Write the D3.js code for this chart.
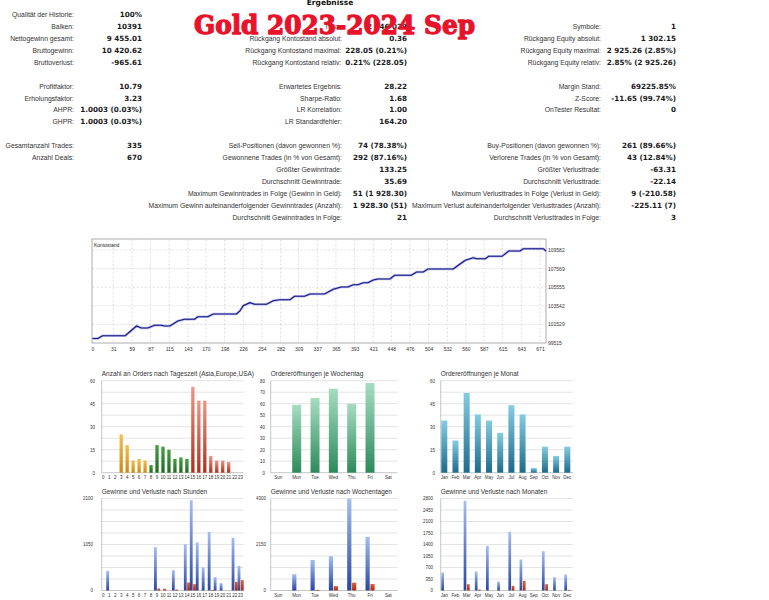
<!DOCTYPE html>
<html><head><meta charset="utf-8">
<script src="https://cdn.jsdelivr.net/npm/d3@7"></script>
<style>body{margin:0;background:#fff}svg{display:block}</style>
</head><body>
<svg id="c" width="769" height="600"></svg>
<script>
// ---------- DATA ----------
const reportTitle = "Ergebnisse";
const overlayTitle = "Gold 2023-2024 Sep";

const col1Labels = ["Qualität der Historie:","Balken:","Nettogewinn gesamt:","Bruttogewinn:","Bruttoverlust:","","Profitfaktor:","Erholungsfaktor:","AHPR:","GHPR:","","Gesamtanzahl Trades:","Anzahl Deals:"];
const col1Values = ["100%","10391","9 455.01","10 420.62","-965.61","","10.79","3.23","1.0003 (0.03%)","1.0003 (0.03%)","","335","670"];
const col2Labels = ["","Ticks:","Rückgang Kontostand absolut:","Rückgang Kontostand maximal:","Rückgang Kontostand relativ:","","Erwartetes Ergebnis:","Sharpe-Ratio:","LR Korrelation:","LR Standardfehler:","","Sell-Positionen (davon gewonnen %):","Gewonnene Trades (in % von Gesamt):","Größter Gewinntrade:","Durchschnitt Gewinntrade:","Maximum Gewinntrades in Folge (Gewinn in Geld):","Maximum Gewinn aufeinanderfolgender Gewinntrades (Anzahl):","Durchschnitt Gewinntrades in Folge:"];
const col2Values = ["","2 046 029","0.36","228.05 (0.21%)","0.21% (228.05)","","28.22","1.68","1.00","164.20","","74 (78.38%)","292 (87.16%)","133.25","35.69","51 (1 928.30)","1 928.30 (51)","21"];
const col3Labels = ["","Symbole:","Rückgang Equity absolut:","Rückgang Equity maximal:","Rückgang Equity relativ:","","Margin Stand:","Z-Score:","OnTester Resultat:","","","Buy-Positionen (davon gewonnen %):","Verlorene Trades (in % von Gesamt):","Größter Verlusttrade:","Durchschnitt Verlusttrade:","Maximum Verlusttrades in Folge (Verlust in Geld):","Maximum Verlust aufeinanderfolgender Verlusttrades (Anzahl):","Durchschnitt Verlusttrades in Folge:"];
const col3Values = ["","1","1 302.15","2 925.26 (2.85%)","2.85% (2 925.26)","","69225.85%","-11.65 (99.74%)","0","","","261 (89.66%)","43 (12.84%)","-63.31","-22.14","9 (-210.58)","-225.11 (7)","3"];

const balanceLabel = "Kontostand";
const balanceIndex = [0,8,15,49,66,73,83,93,103,108,116,128,138,153,158,173,181,216,221,226,236,243,261,271,281,296,303,318,326,348,361,373,383,391,398,406,413,421,428,446,453,478,486,496,503,541,549,559,571,576,589,594,614,624,641,646,676,680];
const balanceValue = [100000,100000,100305,100305,101354,101138,101138,101430,101430,101354,101354,101896,102080,102080,102360,102360,102653,102653,102977,103551,103876,103703,103703,104092,104200,104200,104568,104568,104817,104817,105325,105574,105574,105822,105822,106040,106040,106331,106440,106440,106840,106840,107197,107197,107520,107520,107955,108460,108745,108636,108636,108896,108896,109469,109469,109720,109720,109455];
const balanceXTicks = [0,31,59,87,115,143,170,198,226,254,282,309,337,365,393,421,448,476,504,532,560,587,615,643,671];
const balanceYTicks = [99515,101529,103542,105555,107569,109582];

const hourLabels = ["0","1","2","3","4","5","6","7","8","9","10","11","12","13","14","15","16","17","18","19","20","21","22","23"];
const dayLabels = ["Sun","Mon","Tue","Wed","Thu","Fri","Sat"];
const monthLabels = ["Jan","Feb","Mar","Apr","May","Jun","Jul","Aug","Sep","Oct","Nov","Dec"];
const hourSession = ["asia","asia","asia","asia","asia","asia","asia","asia","europe","europe","europe","europe","europe","europe","europe","usa","usa","usa","usa","usa","usa","usa","usa","usa"];

const ordersByHour = [0,0,0,25,18,8,9,8,5,18,17,15,9,10,9,56,47,47,11,8,8,7,0,0];
const ordersByDay = [0,59,65,73,60,78,0];
const ordersByMonth = [34,21,52,38,34,26,44,38,3,17,11,17];
const profitByHour = [0,449,0,0,0,0,0,0,0,989,0,0,464,0,1058,2062,1096,525,1339,304,167,0,1202,563];
const lossByHour = [0,0,0,0,0,0,0,0,0,45,40,0,23,0,183,145,0,0,15,0,0,0,198,236];
const profitByDay = [0,762,1428,1603,4290,2507,0];
const lossByDay = [0,0,32,206,365,302,0];
const profitByMonth = [548,0,2728,578,1359,274,1785,943,0,1197,406,487];
const lossByMonth = [0,0,193,30,0,0,142,294,0,193,0,20];

const yTicksOrdersHour = [0,15,30,45,60];
const yTicksOrdersDay = [0,10,20,30,40,50,60,70,80];
const yTicksOrdersMonth = [0,15,30,45,60];
const yTicksPLHour = [0,1050,2100];
const yTicksPLDay = [0,2150,4300];
const yTicksPLMonth = [0,350,700,1050,1400,1750,2100,2450,2800];

const chartTitles = ["Anzahl an Orders nach Tageszeit (Asia,Europe,USA)","Ordereröffnungen je Wochentag","Ordereröffnungen je Monat","Gewinne und Verluste nach Stunden","Gewinne und Verluste nach Wochentagen","Gewinne und Verluste nach Monaten"];

// ---------- DRAW ----------
const svg = d3.select("#c");
const defs = svg.append("defs");
function grad(id, top, bottom){
  const g = defs.append("linearGradient").attr("id",id).attr("x1",0).attr("y1",0).attr("x2",0).attr("y2",1);
  g.append("stop").attr("offset","0%").attr("stop-color",top);
  g.append("stop").attr("offset","100%").attr("stop-color",bottom);
}
grad("gAsia","#f2c050","#cf8a12");
grad("gEurope","#45a045","#1d6b1d");
grad("gUsa","#ec9888","#ad2e1c");
grad("gDay","#a6ddc2","#2c8a5a");
grad("gMonth","#84cde2","#1c6b8a");
grad("gBlue","#a4bff0","#2846a0");
grad("gRed","#e0603c","#b0280e");

const LBL_FONT = "'Liberation Sans', Arial, sans-serif";
const VAL_FONT = "'DejaVu Sans', Verdana, sans-serif";
const rowY = i => 14.7 + 11.9*i + 2.5;

// stats
const statCols = [
  {labels: col1Labels, values: col1Values, lx: 74, vx: 142},
  {labels: col2Labels, values: col2Values, lx: 342, vx: 407},
  {labels: col3Labels, values: col3Values, lx: 601, vx: 676}
];
const stats = svg.append("g");
statCols.forEach(col => {
  col.labels.forEach((lab, i) => {
    if (!lab && !col.values[i]) return;
    const v = stats.append("text").attr("x", col.vx).attr("y", rowY(i))
      .attr("text-anchor","end").attr("font-family",VAL_FONT).attr("font-weight","bold")
      .attr("font-size",7.2).attr("fill","#1a1a1a").text(col.values[i]);
    const vLeft = col.vx - v.node().getComputedTextLength();
    const lx = Math.min(col.lx, vLeft - 4);
    stats.append("text").attr("x", lx).attr("y", rowY(i))
      .attr("text-anchor","end").attr("font-family",LBL_FONT)
      .attr("font-size",6.8).attr("fill","#333").text(lab);
  });
});
svg.append("text").attr("x",330).attr("y",5).attr("text-anchor","middle")
  .attr("font-family",VAL_FONT).attr("font-weight","bold").attr("font-size",7.5).attr("fill","#111").text(reportTitle);
svg.append("text").attr("x",194).attr("y",34)
  .attr("font-family","'DejaVu Serif', serif").attr("font-weight","bold").attr("font-size",26)
  .attr("textLength",281).attr("lengthAdjust","spacingAndGlyphs")
  .attr("fill","#e8122b").attr("stroke","#e8122b").attr("stroke-width",1.3).attr("stroke-linejoin","round")
  .text(overlayTitle);

// balance chart
const bx = d3.scaleLinear().domain([0,680]).range([92.5,546]);
const by = d3.scaleLinear().domain([99515,110770]).range([343,239]);
const bg = svg.append("g");
bg.append("rect").attr("x",92).attr("y",239).attr("width",454).attr("height",104)
  .attr("fill","#fff").attr("stroke","#9a9a9a").attr("stroke-width",0.8);
bg.selectAll(".vg").data(balanceXTicks.slice(1)).join("line")
  .attr("x1",d=>bx(d)).attr("x2",d=>bx(d)).attr("y1",239.5).attr("y2",342.5)
  .attr("stroke","#c8c8c8").attr("stroke-width",0.6).attr("stroke-dasharray","2,2");
bg.selectAll(".hg").data(balanceYTicks.slice(1)).join("line")
  .attr("x1",92.5).attr("x2",545.5).attr("y1",d=>by(d)).attr("y2",d=>by(d))
  .attr("stroke","#c8c8c8").attr("stroke-width",0.6).attr("stroke-dasharray","2,2");
bg.append("text").attr("x",94).attr("y",247).attr("font-family",LBL_FONT).attr("font-size",5).attr("fill","#222").text(balanceLabel);
const line = d3.line().x(d=>bx(d[0])).y(d=>by(d[1]));
const bdata = d3.zip(balanceIndex, balanceValue);
bg.append("path").attr("d",line(bdata)).attr("fill","none").attr("stroke","#7c7ce8").attr("stroke-width",2.6).attr("stroke-opacity",0.55);
bg.append("path").attr("d",line(bdata)).attr("fill","none").attr("stroke","#14147a").attr("stroke-width",1.1);
const styleAxis = (g, fs) => { g.select(".domain").remove(); g.attr("font-family",LBL_FONT).attr("font-size",fs); g.selectAll("text").attr("fill","#333"); };
svg.append("g").attr("transform","translate(0,343)")
  .call(d3.axisBottom(bx).tickValues(balanceXTicks).tickSize(0).tickPadding(4).tickFormat(d=>d))
  .call(g=>styleAxis(g,5));
svg.append("g").attr("transform","translate(546,0)")
  .call(d3.axisRight(by).tickValues(balanceYTicks).tickSize(0).tickPadding(2).tickFormat(d=>d))
  .call(g=>styleAxis(g,5));

// small charts
function smallChart(o){
  const x = d3.scaleBand().domain(o.cats).range(o.xr);
  const y = d3.scaleLinear().domain([0,o.max]).range([o.yb,o.yt]);
  const g = svg.append("g");
  g.selectAll(".grid").data(d3.range(9).map(i=>o.max*i/8)).join("line")
    .attr("x1",o.axisX).attr("x2",o.xr[1]).attr("y1",d=>y(d)).attr("y2",d=>y(d))
    .attr("stroke",d=>d===0?"#a0a0a0":"#d2d2d2").attr("stroke-width",0.6);
  g.append("line").attr("x1",o.axisX).attr("x2",o.axisX).attr("y1",o.yt).attr("y2",o.yb)
    .attr("stroke","#a0a0a0").attr("stroke-width",0.6);
  g.append("g").attr("transform",`translate(${o.labelRight},0)`)
    .call(d3.axisLeft(y).tickValues(o.yTicks).tickSize(0).tickPadding(0).tickFormat(d=>d))
    .call(gg=>styleAxis(gg,4.5));
  g.append("g").attr("transform",`translate(0,${o.yb})`)
    .call(d3.axisBottom(x).tickSize(0).tickPadding(3))
    .call(gg=>styleAxis(gg,4.5));
  g.append("text").attr("x",o.axisX).attr("y",o.yt-5).attr("font-family",LBL_FONT)
    .attr("font-size",6.5).attr("fill","#333").text(o.title);
  o.series.forEach(s => {
    g.selectAll(null).data(s.values.map((v,i)=>({v, c:o.cats[i], i}))).join("rect")
      .filter(d=>d.v>0)
      .attr("x",d=>x(d.c)+x.bandwidth()/2+s.offset)
      .attr("width",s.width)
      .attr("y",d=>y(d.v)).attr("height",d=>y(0)-y(d.v))
      .attr("fill",d=>typeof s.fill==="function"?s.fill(d.i):s.fill);
  });
}
const sessionFill = {asia:"url(#gAsia)", europe:"url(#gEurope)", usa:"url(#gUsa)"};
const row1 = {yt:380.7, yb:472.7}, row2 = {yt:498.5, yb:590.5};
const xH = [100.3,243.6], xD = [269.2,397.5], xM = [438.7,572.9];

smallChart({...row1, title:chartTitles[0], cats:hourLabels, xr:xH, axisX:101.7, labelRight:95, max:60, yTicks:yTicksOrdersHour,
  series:[{values:ordersByHour, offset:-1.65, width:3.3, fill:i=>sessionFill[hourSession[i]]}]});
smallChart({...row1, title:chartTitles[1], cats:dayLabels, xr:xD, axisX:270.7, labelRight:265, max:80, yTicks:yTicksOrdersDay,
  series:[{values:ordersByDay, offset:-4.5, width:9, fill:"url(#gDay)"}]});
smallChart({...row1, title:chartTitles[2], cats:monthLabels, xr:xM, axisX:440.7, labelRight:435, max:60, yTicks:yTicksOrdersMonth,
  series:[{values:ordersByMonth, offset:-3, width:6, fill:"url(#gMonth)"}]});
smallChart({...row2, title:chartTitles[3], cats:hourLabels, xr:xH, axisX:101.7, labelRight:93, max:2100, yTicks:yTicksPLHour,
  series:[{values:profitByHour, offset:-3, width:2.8, fill:"url(#gBlue)"},{values:lossByHour, offset:0.3, width:2.8, fill:"url(#gRed)"}]});
smallChart({...row2, title:chartTitles[4], cats:dayLabels, xr:xD, axisX:270.7, labelRight:266, max:4300, yTicks:yTicksPLDay,
  series:[{values:profitByDay, offset:-4.5, width:4.2, fill:"url(#gBlue)"},{values:lossByDay, offset:0.4, width:4.2, fill:"url(#gRed)"}]});
smallChart({...row2, title:chartTitles[5], cats:monthLabels, xr:xM, axisX:440.7, labelRight:433, max:2800, yTicks:yTicksPLMonth,
  series:[{values:profitByMonth, offset:-3, width:2.7, fill:"url(#gBlue)"},{values:lossByMonth, offset:0.3, width:2.7, fill:"url(#gRed)"}]});
</script>
</body></html>
